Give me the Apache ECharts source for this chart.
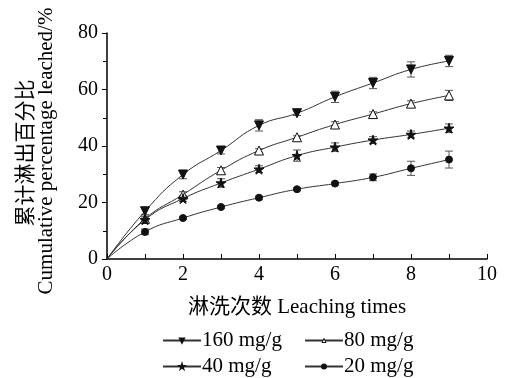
<!DOCTYPE html>
<html>
<head>
<meta charset="utf-8">
<script src="https://cdn.jsdelivr.net/npm/echarts@6/dist/echarts.min.js"></script>
<style>
html, body { margin: 0; padding: 0; background: #fff; }
#main { width: 509px; height: 378px; }
</style>
</head>
<body>
<div id="main"></div>
<script>
var times = [0, 1, 2, 3, 4, 5, 6, 7, 8, 9];
var names = ['160 mg/g', '80 mg/g', '40 mg/g', '20 mg/g'];
var v160 = [0, 16.9, 29.9, 38.4, 47.3, 51.6, 57.4, 62.3, 67.1, 70.1];
var v80 = [0, 14.2, 22.8, 31.4, 38.4, 43.1, 47.6, 51.3, 55.0, 57.9];
var v40 = [0, 13.9, 21.4, 26.9, 31.8, 36.6, 39.6, 42.1, 44.1, 46.3];
var v20 = [0, 9.6, 14.5, 18.4, 21.7, 24.7, 26.7, 28.9, 32.1, 35.2];
var e160 = [0, 1.2, 1.5, 1.2, 2.0, 0.8, 2.0, 2.0, 2.7, 2.0];
var e80 = [0, 1.0, 1.0, 1.0, 0.6, 0.5, 1.0, 0.8, 1.0, 1.8];
var e40 = [0, 1.0, 1.0, 1.5, 1.2, 2.0, 1.5, 1.2, 1.2, 1.5];
var e20 = [0, 1.0, 0.5, 0.5, 0.5, 0.5, 0.5, 1.2, 2.5, 3.0];

var serif = '"Liberation Serif", "Noto Sans CJK SC", serif';
var starPath = 'path://M50,0 L61,35 L98,35 L68,57 L79,91 L50,70 L21,91 L32,57 L2,35 L39,35 Z';

var myChart = echarts.init(document.getElementById('main'));

// 第一个点 (0,0) 不画符号
function pairs(vals) {
	var out = [];
	for (var i = 0; i < times.length; i++) {
		if (i === 0) {
			out.push({ value: [times[i], vals[i]], symbol: 'none' });
		} else {
			out.push([times[i], vals[i]]);
		}
	}
	return out;
}

function errData(vals, errs) {
	var out = [];
	for (var i = 1; i < times.length; i++) {
		out.push([times[i], vals[i] - errs[i], vals[i] + errs[i]]);
	}
	return out;
}

function renderErr(params, api) {
	var lo = api.coord([api.value(0), api.value(1)]);
	var hi = api.coord([api.value(0), api.value(2)]);
	var w = 4;
	var st = { stroke: '#555', lineWidth: 1 };
	return {
		type: 'group',
		children: [
			{ type: 'line', shape: { x1: lo[0], y1: lo[1], x2: hi[0], y2: hi[1] }, style: st },
			{ type: 'line', shape: { x1: lo[0] - w, y1: lo[1], x2: lo[0] + w, y2: lo[1] }, style: st },
			{ type: 'line', shape: { x1: hi[0] - w, y1: hi[1], x2: hi[0] + w, y2: hi[1] }, style: st }
		]
	};
}

function lineSeries(name, vals, symbol, size, rotate, fill) {
	return {
		name: name,
		type: 'line',
		data: pairs(vals),
		smooth: 0.5,
		symbol: symbol,
		symbolSize: size,
		symbolRotate: rotate,
		showAllSymbol: true,
		lineStyle: { color: '#333', width: 1 },
		itemStyle: { color: fill, borderColor: '#111', borderWidth: 1 },
		z: 3
	};
}

var series = [
	lineSeries(names[0], v160, 'triangle', 9, 180, '#111'),
	lineSeries(names[1], v80, 'triangle', 9, 0, '#fff'),
	lineSeries(names[2], v40, starPath, 10, 0, '#111'),
	lineSeries(names[3], v20, 'circle', 7, 0, '#111')
];
var errs = [[v160, e160], [v80, e80], [v40, e40], [v20, e20]];
for (var k = 0; k < errs.length; k++) {
	series.push({
		type: 'custom',
		renderItem: renderErr,
		data: errData(errs[k][0], errs[k][1]),
		encode: { x: 0, y: [1, 2] },
		z: 2,
		silent: true
	});
}

function legendAt(name, left, top, item) {
	return {
		data: [item || name],
		left: left,
		top: top,
		itemWidth: 38,
		itemHeight: 5,
		itemGap: 2,
		textStyle: { fontFamily: serif, fontSize: 21, color: '#000', padding: [0, 0, 0, -4] },
		selectedMode: false
	};
}

var option = {
	animation: false,
	backgroundColor: '#fff',
	grid: { left: 107, right: 22, top: 33, bottom: 119 },
	xAxis: {
		type: 'value',
		min: 0,
		max: 10,
		interval: 2,
		name: '淋洗次数 Leaching times',
		nameLocation: 'middle',
		nameGap: 38,
		nameTextStyle: { fontFamily: serif, fontSize: 21, color: '#000' },
		axisLine: { lineStyle: { color: '#000', width: 1.5 } },
		axisTick: { inside: true, length: 5, lineStyle: { color: '#000' } },
		minorTick: { show: true, splitNumber: 2, length: 5, lineStyle: { color: '#000' } },
		axisLabel: { fontFamily: serif, fontSize: 20, color: '#000', margin: 6 },
		splitLine: { show: false }
	},
	yAxis: {
		type: 'value',
		min: 0,
		max: 80,
		interval: 20,
		axisLine: { show: true, lineStyle: { color: '#000', width: 1.5 } },
		axisTick: { show: true, length: 5, lineStyle: { color: '#000' } },
		minorTick: { show: true, splitNumber: 2, length: 4, lineStyle: { color: '#000' } },
		axisLabel: { fontFamily: serif, fontSize: 20, color: '#000', margin: 9 },
		splitLine: { show: false }
	},
	legend: [
		legendAt(names[0], 157, 325),
		legendAt(names[1], 299, 325, { name: names[1], itemStyle: { color: '#fff', borderColor: '#111', borderWidth: 1 } }),
		legendAt(names[2], 157, 351),
		legendAt(names[3], 299, 351)
	],
	graphic: [
		{
			type: 'text', x: 26, y: 153, rotation: Math.PI / 2,
			style: { text: '累计淋出百分比', font: '21px ' + serif, fill: '#000', align: 'center', verticalAlign: 'middle' }
		},
		{
			type: 'text', x: 46, y: 151, rotation: Math.PI / 2,
			style: { text: 'Cumulative percentage leached/%', font: '21px ' + serif, fill: '#000', align: 'center', verticalAlign: 'middle' }
		}
	],
	series: series
};
myChart.setOption(option);
</script>
</body>
</html>
